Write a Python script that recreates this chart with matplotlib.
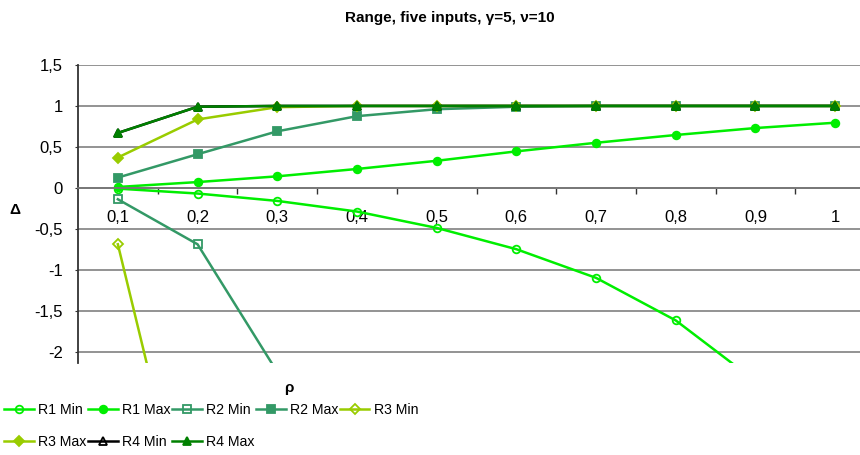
import numpy as np
from matplotlib import pyplot as plt

plt.rcParams['font.family'] = ['Liberation Sans', 'DejaVu Sans']

# rho categories and tick labels (comma decimals as in the original)
rho = [0.1, 0.2, 0.3, 0.4, 0.5, 0.6, 0.7, 0.8, 0.9, 1.0]
rho_labels = ['0,1', '0,2', '0,3', '0,4', '0,5', '0,6', '0,7', '0,8', '0,9', '1']

# Delta values (values below -2.1 are off the chart, estimated)
r1_min = [-0.01, -0.07, -0.16, -0.29, -0.49, -0.75, -1.10, -1.62, -2.36, -3.5]
r1_max = [0.01, 0.07, 0.14, 0.23, 0.33, 0.445, 0.55, 0.645, 0.73, 0.795]
r2_min = [-0.14, -0.69, -2.25, -4.2, -6.5, -9.0, -12.0, -15.0, -18.0, -21.0]
r2_max = [0.125, 0.41, 0.69, 0.875, 0.96, 0.99, 1.0, 1.0, 1.0, 1.0]
r3_min = [-0.69, -4.7, -9.0, -13.0, -17.0, -21.0, -25.0, -29.0, -33.0, -37.0]
r3_max = [0.37, 0.835, 0.985, 1.0, 1.0, 1.0, 1.0, 1.0, 1.0, 1.0]
r4_min = [0.67, 0.99, 1.0, 1.0, 1.0, 1.0, 1.0, 1.0, 1.0, 1.0]
r4_max = [0.67, 0.99, 1.0, 1.0, 1.0, 1.0, 1.0, 1.0, 1.0, 1.0]

c1 = '#00ee00'
c2 = '#339966'
c3 = '#99cc00'
c4 = '#008000'

series = [
    ('R1 Min', r1_min, c1, 'o', 'none'),
    ('R1 Max', r1_max, c1, 'o', c1),
    ('R2 Min', r2_min, c2, 's', 'none'),
    ('R2 Max', r2_max, c2, 's', c2),
    ('R3 Min', r3_min, c3, 'D', 'none'),
    ('R3 Max', r3_max, c3, 'D', c3),
    ('R4 Min', r4_min, 'black', '^', 'none'),
    ('R4 Max', r4_max, c4, '^', c4),
]

fig = plt.figure(figsize=(8.6, 4.55), dpi=100)
ax = fig.add_axes([78/860, 1-363/455, 1-78/860, (363-65)/455])

x = np.arange(1, len(rho) + 1)
lines = []
for name, vals, col, mk, fc in series:
    ms = 5.5 if mk != 'D' else 5
    ln, = ax.plot(x, vals, color=col, lw=1.8, marker=mk, ms=ms, mfc=fc,
                  mec=col, mew=1.3, label=name)
    lines.append(ln)

ax.set_xlim(0.5, 0.5 + (860-78)/79.7)
ax.set_ylim(-2.14, 1.5)

# gridlines
ax.set_yticks([1.5, 1, 0.5, 0, -0.5, -1, -1.5, -2])
ax.set_yticklabels(['1,5', '1', '0,5', '0', '-0,5', '-1', '-1,5', '-2'], fontsize=12)
ax.yaxis.grid(True, color='#8a8a8a', lw=1.3)
ax.set_axisbelow(True)
ax.tick_params(axis='y', length=2, pad=9, color='#333333')

# category axis crossing at zero
ax.spines['bottom'].set_position(('data', 0))
ax.spines['bottom'].set_color('#777777')
ax.spines['bottom'].set_linewidth(1.3)
ax.spines['top'].set_visible(False)
ax.spines['right'].set_visible(False)
ax.spines['left'].set_color('#333333')
ax.spines['left'].set_linewidth(1.3)
ax.set_xticks(x)
ax.set_xticklabels(rho_labels, fontsize=12)
ax.set_xticks(np.arange(1.5, 10.5, 1), minor=True)
ax.tick_params(axis='x', which='major', length=0, pad=16)
ax.tick_params(axis='x', which='minor', length=4, width=1, color='#333333')

fig.text(450/860, 1-18/455, 'Range, five inputs, \u03b3=5, \u03bd=10', ha='center', va='center',
         fontsize=11, fontweight='bold')
fig.text(15/860, 1-210/455, '\u0394', ha='center', va='center', fontsize=11, fontweight='bold')
fig.text(289/860, 1-388/455, '\u03c1', ha='center', va='center', fontsize=11, fontweight='bold')

# legend is filled column by column, so order entries to read row by row
order = [0, 5, 1, 6, 2, 7, 3, 4]
fig.legend([lines[i] for i in order], [series[i][0] for i in order],
           loc='upper left', bbox_to_anchor=(4/860, 1-403/455), ncol=5, frameon=False,
           fontsize=10.2, handlelength=2.1, handletextpad=0.3,
           columnspacing=0.1, labelspacing=1.25, borderaxespad=0, borderpad=0)

fig.savefig('out.png', dpi=100)
